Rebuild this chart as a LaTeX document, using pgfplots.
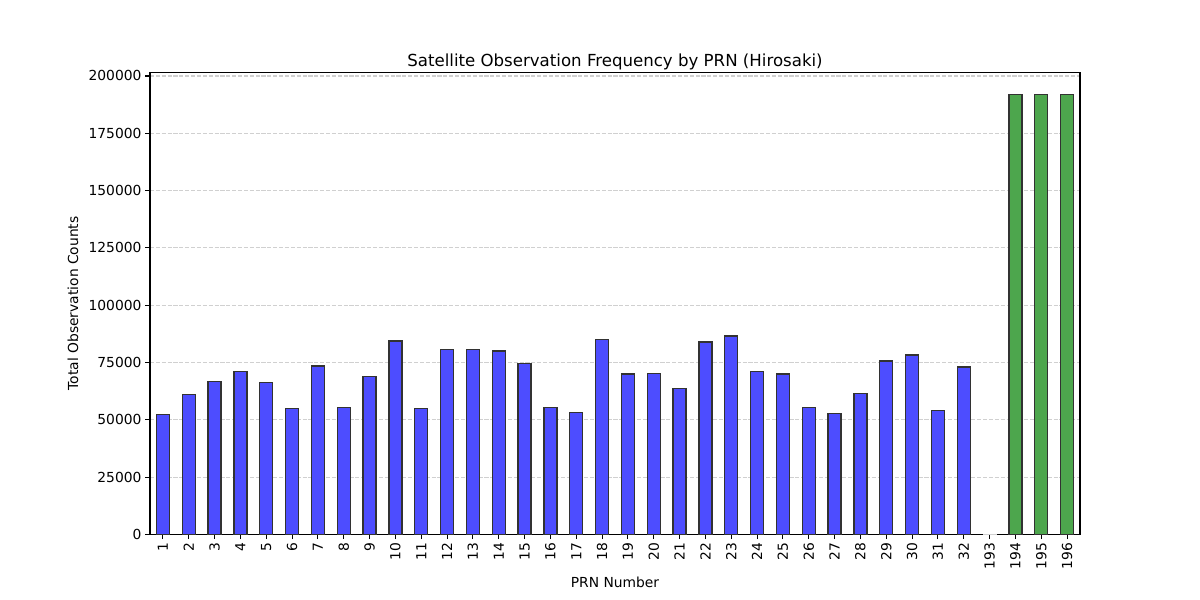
\documentclass[border=0pt]{standalone}
\usepackage{fontspec}
\setmainfont{DejaVu Sans}
\usepackage{pgfplots}
\pgfplotsset{compat=1.18}
\definecolor{barblue}{RGB}{77,77,255}
\definecolor{bargreen}{RGB}{77,166,77}
\definecolor{gridgray}{RGB}{208,208,208}
\definecolor{edgegray}{RGB}{50,50,50}
\begin{document}
\begin{tikzpicture}
\path[use as bounding box] (0,0) rectangle (12in,6in);
\begin{axis}[
  at={(1.5in,0.656in)}, anchor=south west,
  scale only axis, width=9.3in, height=4.621in,
  xmin=-0.5, xmax=35.5, ymin=0, ymax=201600,
  xtick={0,...,35},
  xticklabels={1,2,3,4,5,6,7,8,9,10,11,12,13,14,15,16,17,18,19,20,21,22,23,24,25,26,27,28,29,30,31,32,193,194,195,196},
  ytick={0,25000,50000,75000,100000,125000,150000,175000,200000},
  scaled y ticks=false,
  /pgf/number format/.cd, fixed, precision=0, 1000 sep={}, assume math mode=true, /pgfplots/.cd,
  tick align=outside, xtick pos=lower, ytick pos=left,
  major tick length=3.5pt,
  tick style={black, line width=0.8pt},
  axis line style={black, line width=0.8pt},
  tick label style={font=\fontsize{10}{12}\selectfont, inner sep=2.5pt},
  xticklabel style={rotate=90, anchor=east},
  ymajorgrids,
  major grid style={gridgray, line width=0.8pt, dash pattern=on 2.96pt off 1.28pt},
  title={Satellite Observation Frequency by PRN (Hirosaki)},
  title style={at={(0.5,1)}, anchor=base, yshift=-1.5pt, font=\fontsize{12}{14}\selectfont},
  xlabel={PRN Number},
  xlabel style={at={(axis description cs:0.5,-0.103)}, anchor=center, font=\fontsize{10}{12}\selectfont},
  ylabel={Total Observation Counts},
  ylabel style={at={(axis description cs:-0.0828,0.5)}, anchor=center, font=\fontsize{10}{12}\selectfont},
]
\addplot[ybar, bar width=0.5, bar shift=0pt, fill=barblue, draw=edgegray, line width=1pt] coordinates {
(0,52200) (1,61100) (2,66700) (3,71200) (4,66400) (5,54800) (6,73400) (7,55400)
(8,68900) (9,84300) (10,54800) (11,80700) (12,80700) (13,80000) (14,74600) (15,55400)
(16,53200) (17,85100) (18,69900) (19,70300) (20,63700) (21,83900) (22,86500) (23,71200)
(24,69900) (25,55400) (26,52800) (27,61500) (28,75600) (29,78200) (30,54100) (31,73000)
};
\addplot[ybar, bar width=0.5, bar shift=0pt, fill=barblue, draw=gridgray, line width=0.8pt] coordinates {
(32,1)
};
\addplot[ybar, bar width=0.5, bar shift=0pt, fill=bargreen, draw=edgegray, line width=1pt] coordinates {
(33,192000) (34,192000) (35,192000)
};
\end{axis}
\end{tikzpicture}
\end{document}
